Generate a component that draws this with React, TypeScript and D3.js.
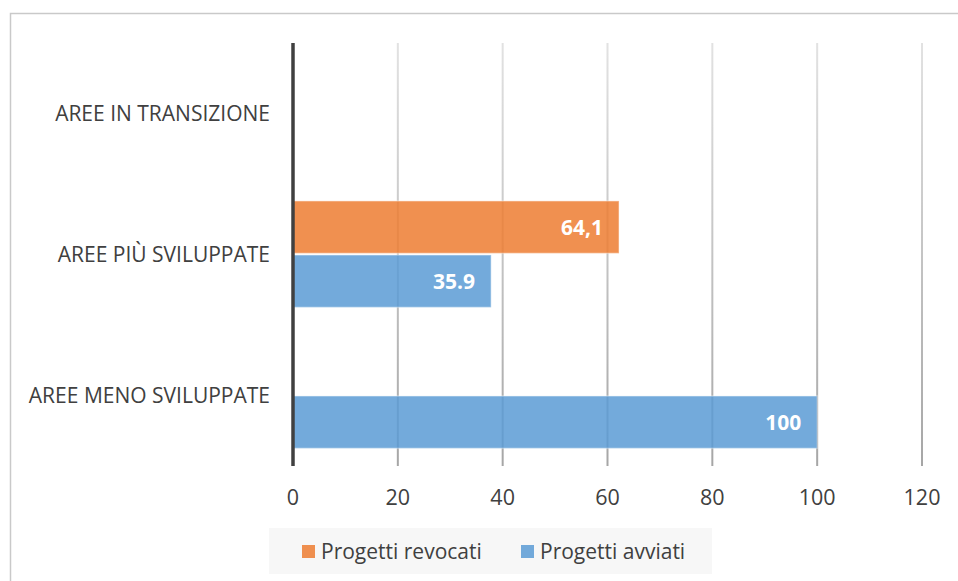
import React from 'react';
import * as d3 from 'd3';

// chart data
const categories = ['AREE IN TRANSIZIONE', 'AREE PIÙ SVILUPPATE', 'AREE MENO SVILUPPATE'];
const seriesNames = ['Progetti revocati', 'Progetti avviati'];
const revocati = [0, 62.2, 0];
const avviati = [0, 37.8, 100];
const revocatiLabels = ['', '64,1', ''];
const avviatiLabels = ['', '35.9', '100'];
const xTicks = [0, 20, 40, 60, 80, 100, 120];

const W = 958;
const H = 581;
const FONT = '"Open Sans", "DejaVu Sans", sans-serif';
const TEXT = '#404040';
const COLORS = ['#ED7D31', '#5B9BD5'];

export default function App() {
  const margin = {top: 43, left: 293, right: 36, bottom: 115};
  const x = d3.scaleLinear().domain([0, 120]).range([margin.left, W - margin.right]);
  const y = d3
    .scaleBand()
    .domain(categories)
    .range([margin.top, H - margin.bottom]);
  const bw = y.bandwidth();
  const inner = d3
    .scaleBand()
    .domain(seriesNames)
    .range([bw * 0.12, bw * 0.875])
    .paddingInner(0.03);

  const series = [
    {name: seriesNames[0], values: revocati, labels: revocatiLabels, color: COLORS[0]},
    {name: seriesNames[1], values: avviati, labels: avviatiLabels, color: COLORS[1]},
  ];

  const y0 = margin.top;
  const y1 = H - margin.bottom;

  return (
    <svg width={W} height={H} style={{position: 'absolute', left: 0, top: 0}} fontFamily={FONT}>
      <defs>
        <linearGradient id="grid" x1="0" y1="0" x2="0" y2="1">
          <stop offset="0" stopColor="#e2e2e2" />
          <stop offset="1" stopColor="#a6a6a6" />
        </linearGradient>
      </defs>
      <rect x={0} y={0} width={W} height={H} fill="#fff" />
      <rect x={10.5} y={13.5} width={W + 10} height={H + 10} fill="#fff" stroke="#c9c9c9" strokeWidth={1.5} />

      {/* gridlines */}
      {xTicks.slice(1).map(t => (
        <rect key={t} x={x(t) - 1} y={y0} width={2} height={y1 - y0} fill="url(#grid)" />
      ))}

      {/* bars */}
      {categories.map((c, i) => (
        <g key={c} transform={`translate(0, ${y(c)})`}>
          {series.map(s =>
            s.values[i] > 0 ? (
              <g key={s.name}>
                <rect
                  x={x(0)}
                  y={inner(s.name)}
                  width={x(s.values[i]) - x(0)}
                  height={inner.bandwidth()}
                  fill={s.color}
                  fillOpacity={0.85}
                  stroke="#ffffff"
                  strokeOpacity={0.35}
                  strokeWidth={1.5}
                />
                <text
                  x={x(s.values[i]) - 16}
                  y={inner(s.name) + inner.bandwidth() / 2}
                  dy="0.36em"
                  textAnchor="end"
                  fill="#fff"
                  fontWeight="bold"
                  fontSize={21}
                >
                  {s.labels[i]}
                </text>
              </g>
            ) : null,
          )}
        </g>
      ))}

      {/* vertical axis */}
      <line x1={x(0)} x2={x(0)} y1={y0} y2={y1} stroke="#404040" strokeWidth={3.5} />

      {/* category labels */}
      {categories.map(c => (
        <text
          key={c}
          x={270}
          y={y(c) + bw / 2}
          dy="0.34em"
          textAnchor="end"
          fill={TEXT}
          fontSize={21}
        >
          {c}
        </text>
      ))}

      {/* x tick labels */}
      {xTicks.map(t => (
        <text key={t} x={x(t)} y={505} textAnchor="middle" fill={TEXT} fontSize={21.5}>
          {t}
        </text>
      ))}

      {/* legend */}
      <rect x={269} y={528} width={443} height={46} fill="#f7f7f7" />
      {series.map((s, i) => {
        const lx = i === 0 ? 302 : 521;
        return (
          <g key={s.name}>
            <rect x={lx} y={545} width={13} height={13} fill={s.color} fillOpacity={0.85} />
            <text x={lx + 19} y={551} dy="0.36em" fill={TEXT} fontSize={21}>
              {s.name}
            </text>
          </g>
        );
      })}
    </svg>
  );
}
